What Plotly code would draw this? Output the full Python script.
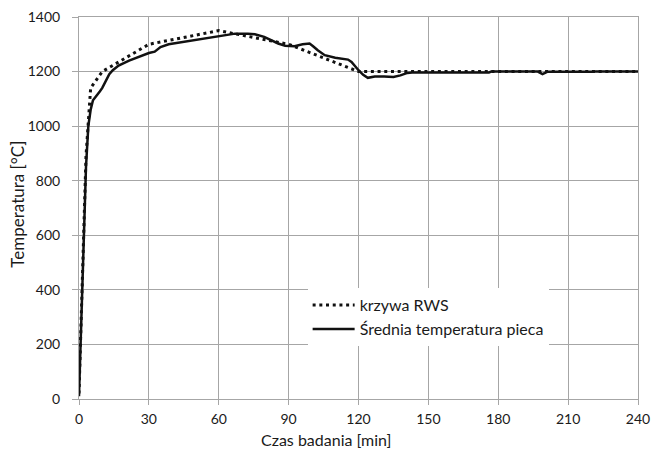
import plotly.graph_objects as go

# RWS curve (dotted)
rws_t = [0, 3, 5, 10, 30, 60, 90, 120, 180, 240]
rws_T = [20, 890, 1140, 1200, 1300, 1350, 1300, 1200, 1200, 1200]

# Average furnace temperature (solid)
furn_t = [0, 1, 2, 3, 4, 5, 6, 7.5, 9, 10, 11.5, 13, 14.5, 17, 21.5, 26, 30, 32.5,
          35, 38.5, 44, 50, 56, 62, 67, 72.5, 75.5, 79.5, 82.5, 85.5, 88.5, 92.5,
          96, 99, 100.5, 102.5, 105.5, 110, 115.5, 117, 120, 122, 124, 127, 131,
          135, 138, 141, 143, 176, 177, 197, 199, 201, 220, 221, 240]
furn_T = [10, 300, 580, 850, 1000, 1060, 1095, 1110, 1128, 1140, 1168, 1190, 1205,
          1222, 1240, 1256, 1268, 1273, 1290, 1300, 1308, 1317, 1325, 1332, 1339,
          1339, 1337, 1327, 1315, 1303, 1295, 1293, 1300, 1303, 1293, 1278, 1260,
          1251, 1244, 1235, 1205, 1188, 1177, 1182, 1182, 1180, 1186, 1195, 1197,
          1197, 1200, 1200, 1191, 1199, 1199, 1200, 1200]

x_ticks = [0, 30, 60, 90, 120, 150, 180, 210, 240]
y_ticks = [0, 200, 400, 600, 800, 1000, 1200, 1400]

x_title = "Czas badania [min]"
y_title = "Temperatura [°C]"

FONT = "Lato"
GRID = "#a6a6a6"
TXT = "#1a1a1a"

fig = go.Figure()
fig.add_trace(go.Scatter(x=rws_t, y=rws_T, mode="lines", name="krzywa RWS",
                         line=dict(color="#111111", width=3, dash="3px,3.7px")))
fig.add_trace(go.Scatter(x=furn_t, y=furn_T, mode="lines", name="Średnia temperatura pieca",
                         line=dict(color="#111111", width=2.5)))

fig.update_layout(
    width=652, height=449,
    margin=dict(l=79, r=14, t=17, b=50, autoexpand=False),
    paper_bgcolor="white", plot_bgcolor="white",
    font=dict(family=FONT, size=14, color=TXT),
    legend=dict(x=0.409, y=0.29, xanchor="left", yanchor="top",
                bgcolor="white", borderwidth=0, font=dict(size=16),
                itemwidth=42, tracegroupgap=0),
    xaxis=dict(range=[0, 240], tickvals=x_ticks, showgrid=True, gridcolor=GRID,
               gridwidth=1, showline=True, linecolor=GRID, linewidth=1, mirror=True,
               ticks="outside", ticklen=5, tickcolor=GRID, zeroline=False,
               automargin=False, ticklabelstandoff=2),
    yaxis=dict(range=[0, 1400], tickvals=y_ticks, showgrid=True, gridcolor=GRID,
               gridwidth=1, showline=True, linecolor=GRID, linewidth=1, mirror=True,
               ticks="outside", ticklen=6, tickcolor=GRID, zeroline=False,
               ticklabelstandoff=9, automargin=False),
    annotations=[
        dict(text=x_title, xref="paper", yref="paper", x=0.442, y=-0.106,
             xanchor="center", yanchor="middle", showarrow=False,
             font=dict(size=16, color=TXT)),
        dict(text=y_title, xref="paper", yref="paper", x=-0.110, y=0.51,
             xanchor="center", yanchor="middle", showarrow=False, textangle=-90,
             font=dict(size=17, color=TXT)),
    ],
)

fig.write_html("out.html")
